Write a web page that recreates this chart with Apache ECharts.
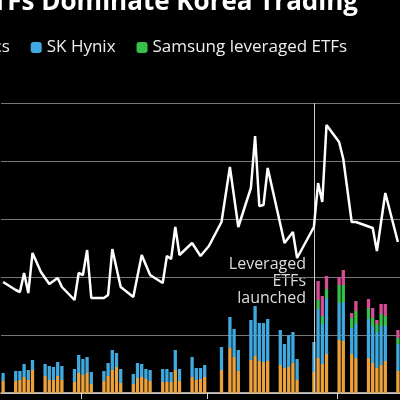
<!DOCTYPE html>
<html><head><meta charset="utf-8">
<script src="https://cdn.jsdelivr.net/npm/echarts@6/dist/echarts.min.js"></script>
<style>html,body{margin:0;background:#000}#c{width:400px;height:400px}</style>
</head><body><div id="c"></div>
<script>
// day index (0 = Monday of first partial week); visible range is day 4 .. 98
const FIRST = 4, LAST = 98;
const days = Array.from({length: LAST-FIRST+1}, (_, i) => 'D' + (i+FIRST));
// bar readings: [day, orange top, blue top, green top, total]
const barRows = [
 [4,12,20,20,20],
 [7,12,22,22,22],[8,13,22,22,22],[9,16,29,29,29],[10,13,23,23,23],[11,23,33,33,33],
 [14,17,29,29,29],[15,13,27,27,27],[16,13,26,26,26],[17,17,31,31,31],[18,13,27,27,27],
 [21,11,24,24,24],[22,20,38,38,38],[23,18,34,34,34],[24,20,36,36,36],[25,9,21,21,21],
 [28,12,22,22,22],[29,17,30,30,30],[30,23,43,43,43],[31,26,40,40,40],[32,10,24,24,24],
 [35,9,19,19,19],[36,15,30,30,30],[37,16,29,29,29],[38,14,24,24,24],[39,12,23,23,23],
 [42,11,24,24,24],[43,11,24,24,24],[44,11,21,21,21],[45,23,43,43,43],[46,12,24,24,24],
 [49,16,36,36,36],[50,13,25,25,25],[51,14,25,25,25],[52,16,28,28,28],
 [56,23,46,46,46],[58,45,76,76,76],[59,36,64,64,64],[60,22,43,43,43],
 [63,33,73,73,73],[64,37,87,87,87],[65,32,70,70,70],[66,31,70,70,70],[67,32,74,74,74],
 [70,28,63,63,63],[71,25,49,49,49],[72,26,58,58,58],[73,30,61,61,61],[74,13,34,34,34],
 [78,21,51,51,51],[79,35,84,93,112],[80,29,69,77,97],[81,39,95,104,117],
 [84,53,90,108,116],[85,52,91,108,123],[87,39,65,75,80],[88,35,69,82,92],
 [91,35,74,85,94],[92,30,67,75,85],[93,25,61,69,73],[94,28,67,79,89],[95,32,67,77,89],
 [98,22,49,55,63]
];
// line readings: [day, value]
const lineRows = [
 [4,111],[7,103],[8,101],[9,120],[10,100],[11,140],[13,121],[15,109],[17,115],[18,106],
 [21,93],[22,120],[23,118],[24,143],[25,95],[28,95],[29,98],[30,144],[32,106],[35,96],
 [37,138],[39,118],[42,110],[43,137],[44,134],[45,166],[46,138],[49,150],[51,137],[53,147],
 [56,171],[58,226],[60,166],[63,205],[64,257],[65,187],[66,188],[67,225],[71,150],[73,161],
 [74,135],[78,166],[79,210],[80,191],[81,268],[84,251],[85,234],[87,171],[88,171],
 [92,165],[93,142],[95,200],[98,151]
];
const n = days.length;
const samsung = new Array(n).fill(null), hynix = new Array(n).fill(null),
      samLev = new Array(n).fill(null), hynLev = new Array(n).fill(null),
      line = new Array(n).fill(null);
barRows.forEach(([d,o,b,g,t]) => { const i=d-FIRST; samsung[i]=o; hynix[i]=b-o; samLev[i]=g-b||null; hynLev[i]=t-g||null; });
lineRows.forEach(([d,v]) => { line[d-FIRST]=v; });

const chart = echarts.init(document.getElementById('c'));
const bar = (name, data, color) => ({name, type:'bar', stack:'a', data, barWidth:3.3,
  itemStyle:{color}, silent:true});
chart.setOption({
  backgroundColor:'#000',
  animation:false,
  textStyle:{fontFamily:'Open Sans'},
  title:{text:'Samsung, SK Hynix ETFs Dominate Korea Trading', right:37, top:-15,
    textStyle:{color:'#fff', fontSize:26, fontWeight:'bold', fontFamily:'Open Sans'}},
  legend:{data:['Samsung Electronics','SK Hynix','Samsung leveraged ETFs'], left:-174, top:34, width:800,
    itemWidth:11, itemHeight:11, icon:'roundRect', itemGap:21,
    textStyle:{color:'#eee', fontSize:17}},
  grid:{left:1, right:0, top:103, bottom:7},
  xAxis:{type:'category', data:days, boundaryGap:true,
    axisLine:{lineStyle:{color:'#ddd', width:1.5}},
    axisTick:{show:true, length:6, lineStyle:{color:'#ddd'},
      interval:(i)=> i===23-FIRST||i===53-FIRST||i===84-FIRST},
    axisLabel:{show:false}},
  yAxis:{type:'value', min:0, max:290, interval:58,
    axisLabel:{show:false}, axisLine:{show:false}, axisTick:{show:false},
    splitLine:{lineStyle:{color:'#777', width:1.2}}},
  series:[
    bar('Samsung Electronics', samsung, '#eba23c'),
    bar('SK Hynix', hynix, '#3fa9e0'),
    bar('Samsung leveraged ETFs', samLev, '#36c04a'),
    bar('SK Hynix leveraged ETFs', hynLev, '#d94b95'),
    {name:'Composite', type:'line', data:line, connectNulls:true, showSymbol:false,
     lineStyle:{color:'#fff', width:2.5}, z:5,
     markLine:{silent:true, symbol:'none', label:{show:false},
       lineStyle:{color:'#ccc', width:1, type:'solid'}, data:[{xAxis:'D78'}]}}
  ],
  graphic:[{type:'text', x:306, y:256,
    style:{text:'Leveraged\nETFs\nlaunched', fill:'#ddd', font:'16px "Open Sans"', align:'right', verticalAlign:'top', lineHeight:17}}]
});
</script></body></html>
